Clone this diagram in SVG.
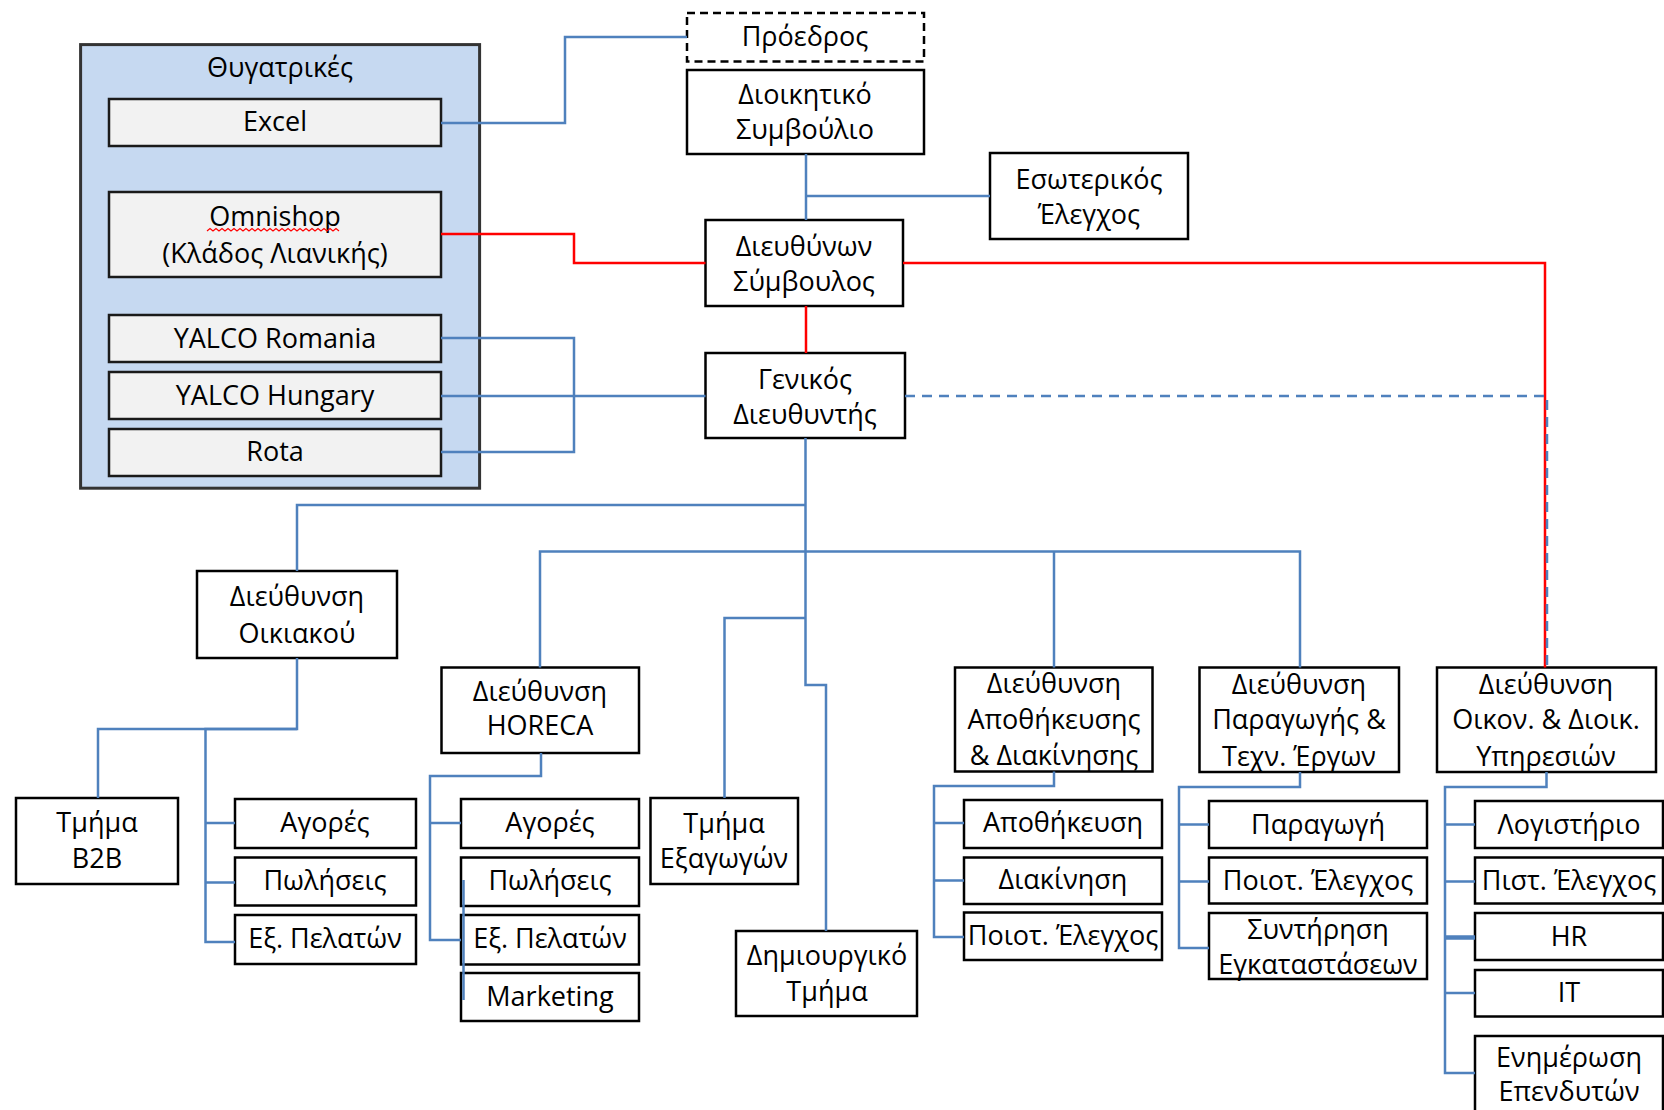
<svg xmlns="http://www.w3.org/2000/svg" width="1664" height="1110" viewBox="0 0 1664 1110">
<style>
.box{fill:#fff;stroke:#000;stroke-width:2.5}
.sub{fill:#f2f2f2;stroke:#1a1a1a;stroke-width:2.5}
.dsh{fill:#fff;stroke:#000;stroke-width:2.5;stroke-dasharray:8 5}
.grp{fill:#c6d9f1;stroke:#333;stroke-width:3}
.t{font-family:"Open Sans","Noto Sans","DejaVu Sans",sans-serif;font-size:27px;fill:#000;text-anchor:middle}
.b{fill:none;stroke:#4f81bd;stroke-width:2.5}
.bt{fill:none;stroke:#4f81bd;stroke-width:4.5}
.bd{fill:none;stroke:#4f81bd;stroke-width:2.5;stroke-dasharray:10 7}
.r{fill:none;stroke:#ff0000;stroke-width:2.5}
</style>
<rect width="1664" height="1110" fill="#fff"/>

<g id="subsidiaries">
<rect class="grp" x="80.6" y="44.6" width="399" height="443.6"/>
<text class="t" x="280" y="77">Θυγατρικές</text>
<g id="excel"><rect class="sub" x="109" y="99" width="332" height="47"/><text class="t" x="275" y="131">Excel</text></g>
<g id="omnishop"><rect class="sub" x="109" y="192" width="332" height="85"/><text class="t" x="275" y="226">Omnishop</text><text class="t" x="275" y="263">(Κλάδος Λιανικής)</text>
<path d="M207 231 l3 -2.5 l3 2.5 l3 -2.5 l3 2.5 l3 -2.5 l3 2.5 l3 -2.5 l3 2.5 l3 -2.5 l3 2.5 l3 -2.5 l3 2.5 l3 -2.5 l3 2.5 l3 -2.5 l3 2.5 l3 -2.5 l3 2.5 l3 -2.5 l3 2.5 l3 -2.5 l3 2.5 l3 -2.5 l3 2.5 l3 -2.5 l3 2.5 l3 -2.5 l3 2.5 l3 -2.5 l3 2.5 l3 -2.5 l3 2.5 l3 -2.5 l3 2.5 l3 -2.5 l3 2.5 l3 -2.5 l3 2.5 l3 -2.5 l3 2.5 l3 -2.5 l3 2.5 l3 -2.5 l3 2.5" fill="none" stroke="#ff0000" stroke-width="1.2"/></g>
<g id="romania"><rect class="sub" x="109" y="315" width="332" height="47"/><text class="t" x="275" y="348">YALCO Romania</text></g>
<g id="hungary"><rect class="sub" x="109" y="372" width="332" height="47"/><text class="t" x="275" y="405">YALCO Hungary</text></g>
<g id="rota"><rect class="sub" x="109" y="429" width="332" height="47"/><text class="t" x="275" y="461">Rota</text></g>
</g>

<g id="president"><rect class="dsh" x="687" y="13" width="237" height="48.5"/><text class="t" x="805" y="46">Πρόεδρος</text></g>
<g id="board"><rect class="box" x="687" y="70" width="237" height="84"/><text class="t" x="805" y="104">Διοικητικό</text><text class="t" x="805" y="139">Συμβούλιο</text></g>
<g id="audit"><rect class="box" x="990" y="153" width="198" height="86"/><text class="t" x="1089" y="189">Εσωτερικός</text><text class="t" x="1089" y="224">Έλεγχος</text></g>
<g id="ceo"><rect class="box" x="705.5" y="220" width="197.5" height="86"/><text class="t" x="804" y="256">Διευθύνων</text><text class="t" x="804" y="291">Σύμβουλος</text></g>
<g id="gm"><rect class="box" x="705.5" y="353" width="199.5" height="85"/><text class="t" x="805" y="389">Γενικός</text><text class="t" x="805" y="424">Διευθυντής</text></g>

<g id="household"><rect class="box" x="197" y="571" width="200" height="87"/><text class="t" x="297" y="606">Διεύθυνση</text><text class="t" x="297" y="643">Οικιακού</text></g>
<g id="b2b"><rect class="box" x="16" y="798" width="162" height="86"/><text class="t" x="97" y="832">Τμήμα</text><text class="t" x="97" y="868">B2B</text></g>
<g id="hh-purchases"><rect class="box" x="235" y="799" width="181" height="49"/><text class="t" x="325" y="832">Αγορές</text></g>
<g id="hh-sales"><rect class="box" x="235" y="857.5" width="181" height="48"/><text class="t" x="325" y="890">Πωλήσεις</text></g>
<g id="hh-service"><rect class="box" x="235" y="915" width="181" height="49"/><text class="t" x="325" y="948">Εξ. Πελατών</text></g>

<g id="horeca"><rect class="box" x="441.5" y="667.5" width="197.5" height="85.5"/><text class="t" x="540" y="701">Διεύθυνση</text><text class="t" x="540" y="735">HORECA</text></g>
<g id="ho-purchases"><rect class="box" x="461" y="799" width="178" height="49"/><text class="t" x="550" y="832">Αγορές</text></g>
<g id="ho-sales"><rect class="box" x="461" y="857.5" width="178" height="48.5"/><text class="t" x="550" y="890">Πωλήσεις</text></g>
<g id="ho-service"><rect class="box" x="461" y="915" width="178" height="49.5"/><text class="t" x="550" y="948">Εξ. Πελατών</text></g>
<g id="ho-marketing"><rect class="box" x="461" y="973" width="178" height="48"/><text class="t" x="550" y="1006">Marketing</text></g>

<g id="exports"><rect class="box" x="650.5" y="798" width="147.5" height="86"/><text class="t" x="724" y="833">Τμήμα</text><text class="t" x="724" y="868">Εξαγωγών</text></g>
<g id="creative"><rect class="box" x="736" y="931" width="181" height="85"/><text class="t" x="827" y="965">Δημιουργικό</text><text class="t" x="827" y="1001">Τμήμα</text></g>

<g id="logistics"><rect class="box" x="955" y="667.5" width="197.5" height="104"/><text class="t" x="1054" y="693">Διεύθυνση</text><text class="t" x="1054" y="729">Αποθήκευσης</text><text class="t" x="1054" y="765">&amp; Διακίνησης</text></g>
<g id="lg-storage"><rect class="box" x="964" y="800" width="198" height="48"/><text class="t" x="1063" y="832">Αποθήκευση</text></g>
<g id="lg-moving"><rect class="box" x="964" y="857.5" width="198" height="46.5"/><text class="t" x="1063" y="889">Διακίνηση</text></g>
<g id="lg-qc"><rect class="box" x="964" y="912.5" width="198" height="47.5"/><text class="t" x="1063" y="945">Ποιοτ. Έλεγχος</text></g>

<g id="production"><rect class="box" x="1199.5" y="667.5" width="199.5" height="104.5"/><text class="t" x="1299" y="694">Διεύθυνση</text><text class="t" x="1299" y="729">Παραγωγής &amp;</text><text class="t" x="1299" y="766">Τεχν. Έργων</text></g>
<g id="pr-production"><rect class="box" x="1209" y="801" width="218" height="47"/><text class="t" x="1318" y="834">Παραγωγή</text></g>
<g id="pr-qc"><rect class="box" x="1209" y="857.5" width="218" height="46"/><text class="t" x="1318" y="890">Ποιοτ. Έλεγχος</text></g>
<g id="pr-maint"><rect class="box" x="1209" y="913" width="218" height="66"/><text class="t" x="1318" y="939">Συντήρηση</text><text class="t" x="1318" y="974">Εγκαταστάσεων</text></g>

<g id="finance"><rect class="box" x="1437" y="667.5" width="219" height="104.5"/><text class="t" x="1546" y="694">Διεύθυνση</text><text class="t" x="1546" y="729">Οικον. &amp; Διοικ.</text><text class="t" x="1546" y="766">Υπηρεσιών</text></g>
<g id="fn-accounting"><rect class="box" x="1475" y="801" width="188" height="47"/><text class="t" x="1569" y="834">Λογιστήριο</text></g>
<g id="fn-credit"><rect class="box" x="1475" y="857.5" width="188" height="46"/><text class="t" x="1569" y="890">Πιστ. Έλεγχος</text></g>
<g id="fn-hr"><rect class="box" x="1475" y="913" width="188" height="47"/><text class="t" x="1569" y="946">HR</text></g>
<g id="fn-it"><rect class="box" x="1475" y="970" width="188" height="46.5"/><text class="t" x="1569" y="1002">IT</text></g>
<g id="fn-ir"><rect class="box" x="1475" y="1036" width="188" height="85"/><text class="t" x="1569" y="1067">Ενημέρωση</text><text class="t" x="1569" y="1101">Επενδυτών</text></g>

<g id="connectors">
<path class="b" d="M441 123 H565 V37 H687"/>
<path class="r" d="M441 234 H574 V263 H705.5"/>
<path class="r" d="M903 263 H1545 V667.5"/>
<path class="r" d="M806 306 V353"/>
<path class="b" d="M806 154 V220"/>
<path class="b" d="M806 196 H990"/>
<path class="b" d="M441 338 H574 V452 H441"/>
<path class="b" d="M441 396 H705.5"/>
<path class="bd" d="M905 396 H1547 V667.5"/>
<path class="b" d="M805.5 438 V685 H826 V931"/>
<path class="b" d="M805.5 505 H297 V571"/>
<path class="b" d="M540 667.5 V551.5 H1300 V667.5"/>
<path class="b" d="M1054 551.5 V667.5"/>
<path class="b" d="M805.5 618 H724.5 V798"/>
<path class="b" d="M297 658 V729 H98 V798"/>
<path class="b" d="M297 729 H205.5 V942 H235"/>
<path class="b" d="M205.5 823 H235 M205.5 882.5 H235"/>
<path class="b" d="M541 753 V776 H430 V940 H461"/>
<path class="b" d="M430 823 H461"/>
<path class="b" d="M463.5 880 V1000"/>
<path class="b" d="M1054 771.5 V786 H934 V937 H964"/>
<path class="b" d="M934 823 H964 M934 880.5 H964"/>
<path class="b" d="M1300 772 V787 H1179 V948 H1209"/>
<path class="b" d="M1179 824.5 H1209 M1179 881.5 H1209"/>
<path class="b" d="M1546.5 772 V787 H1445 V1073 H1475"/>
<path class="b" d="M1445 824.5 H1475 M1445 881.5 H1475 M1445 993 H1475"/>
<path class="bt" d="M1445 937.5 H1475"/>
</g>
</svg>
